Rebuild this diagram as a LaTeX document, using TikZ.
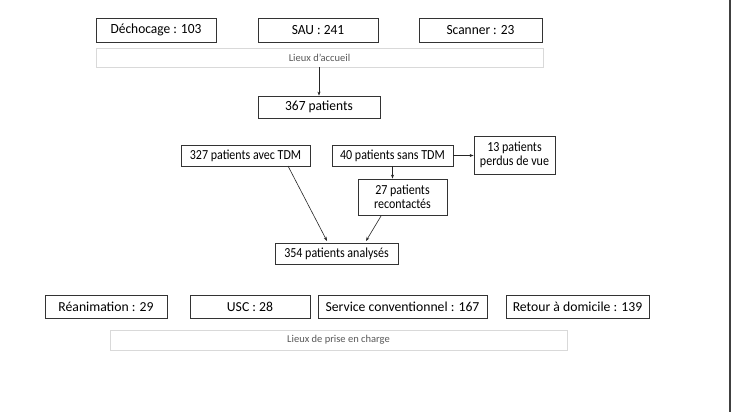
\documentclass[tikz,border=0pt]{standalone}
\usepackage{fontspec}
\setmainfont{Carlito}
\newfontfamily\ftop[FakeStretch=0.96]{Carlito}
\newfontfamily\fmid{Carlito}
\newfontfamily\fsmall[FakeStretch=0.87]{Carlito}
\newfontfamily\fband{Carlito}
\usetikzlibrary{arrows.meta}
\begin{document}
\begin{tikzpicture}[x=1pt,y=-1pt,
  box/.style={draw=black!80,line width=0.8pt,inner sep=0pt,align=center},
  big/.style={font=\ftop\fontsize{14}{15}\selectfont},
  mid/.style={font=\fmid\fontsize{13.7}{14}\selectfont},
  small/.style={font=\fsmall\fontsize{13.8}{13.5}\selectfont},
  band/.style={draw=black!15,line width=0.6pt,inner sep=0pt,text=black!65,font=\fband\fontsize{10.5}{11}\selectfont},
  arr/.style={-{Stealth[length=4pt,width=3pt]},line width=0.6pt,draw=black!85}]
\useasboundingbox (0,0) rectangle (736,412);
\fill[white] (0,0) rectangle (736,412);
\node[box,big,minimum width=120pt,minimum height=24pt] (dec) at (156,30) {Déchocage : 103};
\node[box,big,minimum width=120pt,minimum height=24pt] (sau) at (318,30) {SAU : 241};
\node[box,big,minimum width=123pt,minimum height=24pt] (scan) at (480.5,30) {Scanner : 23};
\node[band,minimum width=447pt,minimum height=19pt] (acc) at (319.5,57.5) {Lieux d’accueil};
\node[box,big,minimum width=122pt,minimum height=22pt] (p367) at (319,107) {367 patients};
\node[box,small,minimum width=129pt,minimum height=21pt] (avec) at (245.5,155.5) {327 patients avec TDM};
\node[box,small,minimum width=121pt,minimum height=21pt] (sans) at (392.5,155.5) {40 patients sans TDM};
\node[box,small,minimum width=81pt,minimum height=38pt] (perdus) at (514.5,155) {13 patients\\perdus de vue};
\node[box,small,minimum width=89pt,minimum height=36pt] (recon) at (402.5,197) {27 patients\\recontactés};
\node[box,small,minimum width=123pt,minimum height=21pt] (anal) at (336.5,253.5) {354 patients analysés};
\node[box,mid,minimum width=122pt,minimum height=23pt] (rea) at (106,306.5) {Réanimation : 29};
\node[box,mid,minimum width=120pt,minimum height=23pt] (usc) at (250,306.5) {USC : 28};
\node[box,mid,minimum width=169pt,minimum height=23pt] (serv) at (402.5,306.5) {Service conventionnel : 167};
\node[box,mid,minimum width=143pt,minimum height=23pt] (ret) at (577.5,306.5) {Retour à domicile  : 139};
\node[band,minimum width=457pt,minimum height=20pt] (prise) at (338.5,340) {Lieux de prise en charge};
\draw[arr] (acc.south -| p367.north) -- (p367.north);
\draw[arr] (sans.east) -- (perdus.west |- sans.east);
\draw[arr] (sans.south) -- (sans.south |- recon.north);
\coordinate (c1) at (288,166);
\draw[arr] (c1) -- (327,241);
\coordinate (c2) at (381,216);
\draw[arr] (c2) -- (366,241);
\coordinate (vt) at (730,0);
\coordinate (vb) at (730,412);
\draw[line width=1.2pt,black!75] (vt) -- (vb);
\end{tikzpicture}
\end{document}
